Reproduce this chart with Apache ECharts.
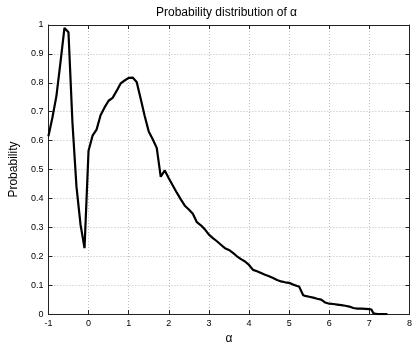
<!DOCTYPE html>
<html>
<head>
<meta charset="utf-8">
<script src="https://cdn.jsdelivr.net/npm/echarts@6/dist/echarts.min.js"></script>
<style>
  html, body { margin: 0; padding: 0; background: #fff; }
  #main { width: 415px; height: 350px; }
</style>
</head>
<body>
<div id="main"></div>
<script>
// alpha values and the probability
var alphaVals = [-1, -0.9, -0.8, -0.7, -0.6, -0.5, -0.4, -0.3, -0.2, -0.1,
  0, 0.1, 0.2, 0.3, 0.4, 0.5, 0.6, 0.7, 0.8, 0.9,
  1.0, 1.1, 1.2, 1.3, 1.4, 1.5, 1.6, 1.7, 1.8, 1.9,
  2.0, 2.1, 2.2, 2.3, 2.4, 2.5, 2.6, 2.7, 2.8, 2.9,
  3.0, 3.1, 3.2, 3.3, 3.4, 3.5, 3.6, 3.7, 3.8, 3.9,
  4.0, 4.1, 4.2, 4.3, 4.4, 4.5, 4.6, 4.7, 4.8, 4.9,
  5.0, 5.1, 5.2, 5.25, 5.35, 5.4, 5.5, 5.6, 5.7, 5.8, 5.9,
  6.0, 6.1, 6.2, 6.3, 6.4, 6.5, 6.6, 6.7, 6.8, 6.9,
  7.0, 7.05, 7.1, 7.2, 7.3, 7.45];
var probVals = [0.615, 0.68, 0.755, 0.87, 0.99, 0.975, 0.66, 0.44, 0.31, 0.228,
  0.565, 0.617, 0.638, 0.688, 0.715, 0.738, 0.748, 0.772, 0.798, 0.808,
  0.817, 0.818, 0.803, 0.745, 0.685, 0.632, 0.605, 0.575, 0.475, 0.497,
  0.47, 0.445, 0.42, 0.397, 0.375, 0.362, 0.347, 0.318, 0.307, 0.293,
  0.275, 0.263, 0.252, 0.24, 0.228, 0.222, 0.212, 0.2, 0.19, 0.182,
  0.17, 0.153, 0.148, 0.142, 0.136, 0.131, 0.125, 0.118, 0.113, 0.11,
  0.108, 0.102, 0.097, 0.095, 0.065, 0.063, 0.06, 0.057, 0.053, 0.05, 0.04,
  0.036, 0.035, 0.033, 0.031, 0.029, 0.026, 0.021, 0.019, 0.019, 0.018,
  0.017, 0.016, 0.003, 0, 0, 0];

var titleText = 'Probability distribution of \u03b1';
var xName = '\u03b1';
var yName = 'Probability';

var font = 'Liberation Sans, Arial, Helvetica, sans-serif';

var points = [];
for (var i = 0; i < alphaVals.length; i++) {
  points.push([alphaVals[i], probVals[i]]);
}

var boxLine = { show: true, onZero: false, lineStyle: { color: '#222', width: 1 } };
var tick = { show: true, inside: true, length: 4, lineStyle: { color: '#222' } };
var grid = { show: true, lineStyle: { color: '#bdbdbd', width: 1, type: [1, 2] } };

var chart = echarts.init(document.getElementById('main'));
chart.setOption({
  animation: false,
  backgroundColor: '#fff',
  // title sits over the middle of the plot box, not the page
  title: {
    text: titleText,
    left: 151,
    top: 2,
    textStyle: { fontFamily: font, fontSize: 12, fontWeight: 'normal', color: '#000' }
  },
  grid: { left: 33, right: 5, top: 25, bottom: 28 },
  xAxis: [{
    type: 'value', min: -1, max: 8, interval: 1, position: 'bottom',
    axisLine: boxLine, axisTick: tick, splitLine: grid,
    axisLabel: { fontFamily: font, fontSize: 9, color: '#000', margin: 5 },
    name: xName, nameLocation: 'middle', nameGap: 16,
    nameTextStyle: { fontFamily: font, fontSize: 12, color: '#000' }
  }, {
    type: 'value', min: -1, max: 8, interval: 1, position: 'top',
    axisLine: boxLine, axisTick: tick, splitLine: { show: false },
    axisLabel: { show: false }
  }],
  yAxis: [{
    type: 'value', min: 0, max: 1, interval: 0.1, position: 'left',
    axisLine: boxLine, axisTick: tick, splitLine: grid,
    axisLabel: { fontFamily: font, fontSize: 9, color: '#000', margin: 5 },
    name: yName, nameLocation: 'middle', nameGap: 23,
    nameTextStyle: { fontFamily: font, fontSize: 12, color: '#000' }
  }, {
    type: 'value', min: 0, max: 1, interval: 0.1, position: 'right',
    axisLine: boxLine, axisTick: tick, splitLine: { show: false },
    axisLabel: { show: false }
  }],
  series: [{
    type: 'line',
    data: points,
    xAxisIndex: 0,
    yAxisIndex: 0,
    showSymbol: false,
    symbol: 'none',
    lineStyle: { color: '#000', width: 2.2 }
  }]
});
</script>
</body>
</html>
